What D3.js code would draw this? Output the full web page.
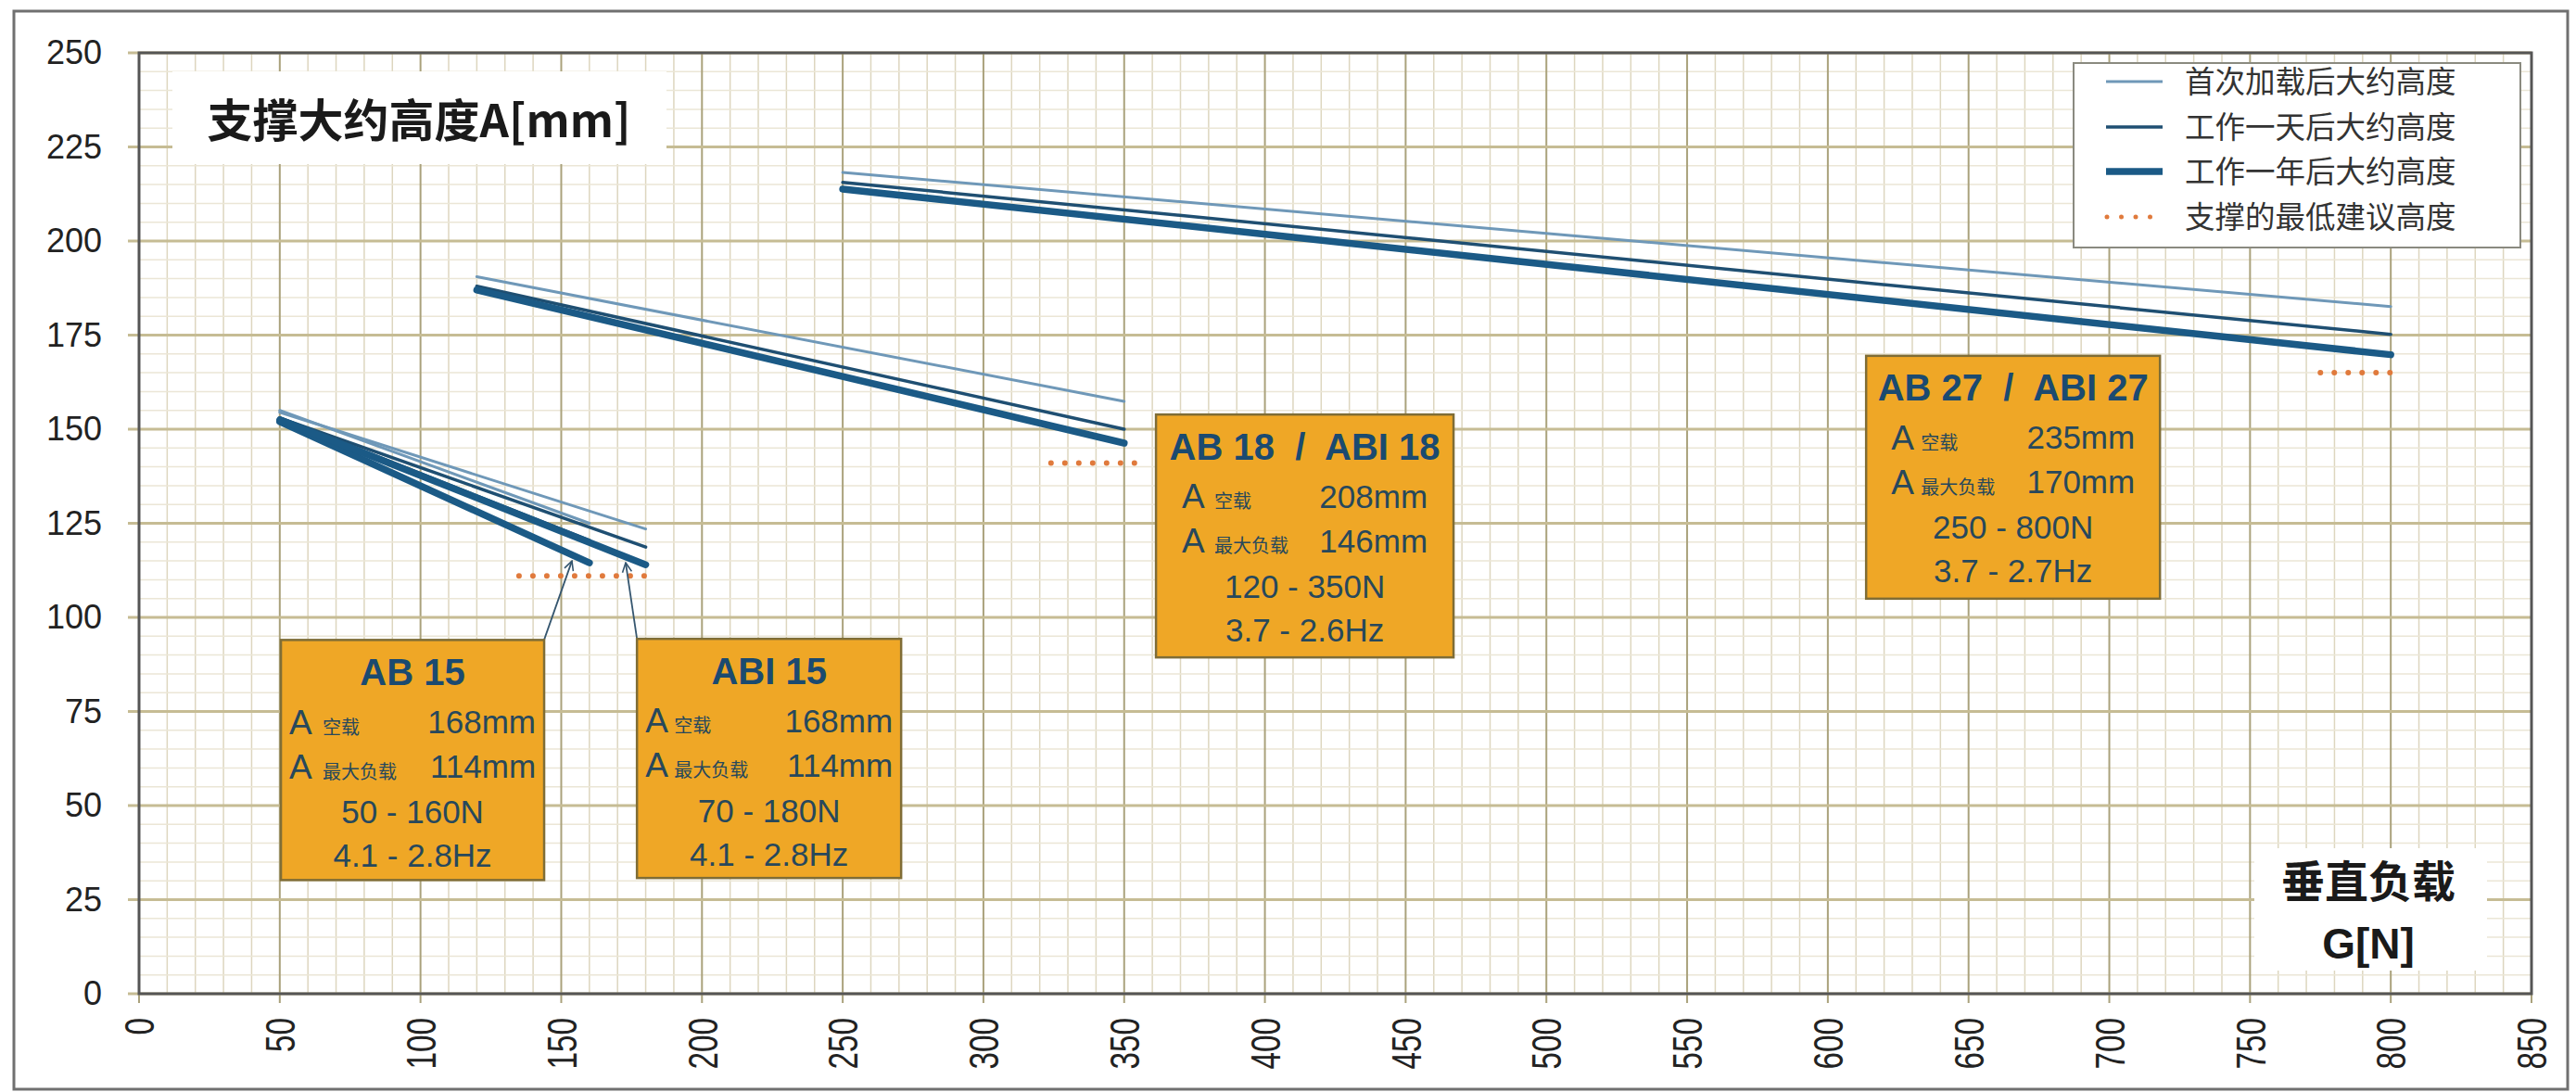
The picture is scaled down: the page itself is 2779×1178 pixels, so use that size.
<!DOCTYPE html>
<html>
<head>
<meta charset="utf-8">
<script src="https://cdn.jsdelivr.net/npm/d3@7"></script>
<style>
  html, body { margin: 0; padding: 0; background: #ffffff; }
  svg { display: block; }
</style>
</head>
<body>
<svg id="chart" width="2779" height="1178"></svg>
<script>
// ---------------- DATA ----------------
const xTickLabels = [0, 50, 100, 150, 200, 250, 300, 350, 400, 450, 500, 550, 600, 650, 700, 750, 800, 850];
const yTickLabels = [0, 25, 50, 75, 100, 125, 150, 175, 200, 225, 250];

const seriesNames = ["首次加载后大约高度", "工作一天后大约高度", "工作一年后大约高度", "支撑的最低建议高度"];

const curveModels = ["AB 15", "ABI 15", "AB 18", "AB 27"];
const curveLoads = [[50, 160], [50, 180], [120, 350], [250, 800]];
const firstLoadHeights = [[155, 125], [154.5, 123.5], [190.5, 157.4], [218.2, 182.6]];
const oneDayHeights = [[153, 120.5], [153, 118.7], [188, 150], [215.6, 175.2]];
const oneYearHeights = [[152, 114.5], [152.5, 114], [187, 146.3], [213.8, 169.8]];

const minHeightLoads = [[135, 184], [324, 355], [775, 804]];
const minHeightValues = [111, 141, 165];

const boxTitles = ["AB 15", "ABI 15", "AB 18  /  ABI 18", "AB 27  /  ABI 27"];
const boxEmptyHeight = ["168mm", "168mm", "208mm", "235mm"];
const boxMaxLoadHeight = ["114mm", "114mm", "146mm", "170mm"];
const boxLoadRange = ["50 - 160N", "70 - 180N", "120 - 350N", "250 - 800N"];
const boxFrequency = ["4.1 - 2.8Hz", "4.1 - 2.8Hz", "3.7 - 2.6Hz", "3.7 - 2.7Hz"];
const rowLabelEmpty = "空载";
const rowLabelMax = "最大负载";

const yTitle = "支撑大约高度A[mm]";
const xTitle = ["垂直负载", "G[N]"];

// arrows: from box corner (load, height) to curve point (load, height)
const arrowFrom = [[143.9, 94], [176.9, 94.3]];
const arrowTo = [[153.8, 115], [172.9, 114.5]];

// ---------------- LAYOUT ----------------
const boxAnchor = [[50.4, 94], [176.9, 94.3], [361.3, 153.9], [613.6, 169.5]]; // top-left in data units
const boxSize = [[284, 259], [285, 258], [321, 262], [317, 262]];            // px
const boxPad = [9, 9, 28, 27];
const boxSmallOffset = [36, 31, 35, 32];

const svg = d3.select("#chart");
const plotL = 150, plotR = 2731, plotT = 57, plotB = 1072;

const x = d3.scaleLinear().domain([0, 850]).range([plotL, plotR]);
const y = d3.scaleLinear().domain([0, 250]).range([plotB, plotT]);

const latin = "'Liberation Sans', Arial, sans-serif";
const cjk = "'Noto Sans CJK SC', 'Liberation Sans', sans-serif";

// outer frame
svg.append("rect").attr("x", 15).attr("y", 12).attr("width", 2755).attr("height", 1163)
  .attr("fill", "#ffffff").attr("stroke", "#707070").attr("stroke-width", 3);

// plot background
svg.append("rect").attr("x", plotL).attr("y", plotT).attr("width", plotR - plotL).attr("height", plotB - plotT)
  .attr("fill", "#ffffff");

// grid
const grid = svg.append("g");
const minorX = d3.range(0, 851, 10).filter(v => v % 50 !== 0);
const minorY = d3.range(0, 251, 5).filter(v => v % 25 !== 0);
grid.selectAll(".mnx").data(minorX).join("line")
  .attr("x1", d => x(d)).attr("x2", d => x(d)).attr("y1", plotT).attr("y2", plotB)
  .attr("stroke", "#ddd6bf").attr("stroke-width", 1.5);
grid.selectAll(".mny").data(minorY).join("line")
  .attr("x1", plotL).attr("x2", plotR).attr("y1", d => y(d)).attr("y2", d => y(d))
  .attr("stroke", "#ebe6d6").attr("stroke-width", 1.5);
grid.selectAll(".mjx").data(xTickLabels).join("line")
  .attr("x1", d => x(d)).attr("x2", d => x(d)).attr("y1", plotT).attr("y2", plotB + 10)
  .attr("stroke", "#aaa27c").attr("stroke-width", 2);
grid.selectAll(".mjy").data(yTickLabels).join("line")
  .attr("x1", plotL - 12).attr("x2", plotR).attr("y1", d => y(d)).attr("y2", d => y(d))
  .attr("stroke", "#c6bc94").attr("stroke-width", 3);

// axes (labels)
const yAxis = d3.axisLeft(y).tickValues(yTickLabels).tickSize(0).tickPadding(40);
const gy = svg.append("g").attr("transform", `translate(${plotL},0)`).call(yAxis);
gy.select(".domain").remove();
gy.selectAll("text").attr("font-family", latin).attr("font-size", 36).attr("fill", "#222");

const xAxis = d3.axisBottom(x).tickValues(xTickLabels).tickSize(0);
const gx = svg.append("g").attr("transform", `translate(0,${plotB})`).call(xAxis);
gx.select(".domain").remove();
gx.selectAll("text")
  .attr("font-family", latin).attr("font-size", 45).attr("fill", "#222")
  .attr("x", 0).attr("y", 0).attr("dy", "0.35em")
  .attr("text-anchor", "end")
  .attr("transform", "translate(0,26) rotate(-90) scale(0.74,1)");

// plot border
svg.append("rect").attr("x", plotL).attr("y", plotT).attr("width", plotR - plotL).attr("height", plotB - plotT)
  .attr("fill", "none").attr("stroke", "#555").attr("stroke-width", 3);

// title box (y)
const tg = svg.append("g");
tg.append("rect").attr("x", 186).attr("y", 77).attr("width", 533).attr("height", 100).attr("fill", "#ffffff");
tg.append("text").attr("x", 452).attr("y", 130).attr("dy", "0.36em").attr("text-anchor", "middle")
  .attr("font-family", cjk).attr("font-weight", 700).attr("font-size", 49).attr("fill", "#1a1a1a")
  .text(yTitle);

// x title box
const xg = svg.append("g");
xg.append("rect").attr("x", 2432).attr("y", 915).attr("width", 251).attr("height", 132).attr("fill", "#ffffff");
xg.append("text").attr("x", 2555).attr("y", 951).attr("dy", "0.36em").attr("text-anchor", "middle")
  .attr("font-family", cjk).attr("font-weight", 700).attr("font-size", 47).attr("fill", "#1a1a1a")
  .text(xTitle[0]);
xg.append("text").attr("x", 2555).attr("y", 1017).attr("dy", "0.36em").attr("text-anchor", "middle")
  .attr("font-family", latin).attr("font-weight", 700).attr("font-size", 46).attr("fill", "#1a1a1a")
  .text(xTitle[1]);

// curves
const line = d3.line().x(d => x(d[0])).y(d => y(d[1]));
const styles = [
  { stroke: "#6f98b8", width: 3 },
  { stroke: "#1f4f72", width: 3.5 },
  { stroke: "#1b5a86", width: 7.5 }
];
const heightSets = [firstLoadHeights, oneDayHeights, oneYearHeights];
const cg = svg.append("g");
heightSets.forEach((set, si) => {
  cg.selectAll(".c" + si).data(curveModels).join("path")
    .attr("d", (m, i) => line([[curveLoads[i][0], set[i][0]], [curveLoads[i][1], set[i][1]]]))
    .attr("fill", "none").attr("stroke", styles[si].stroke).attr("stroke-width", styles[si].width)
    .attr("stroke-linecap", "round");
});

// minimum recommended height (dotted)
cg.selectAll(".minh").data(minHeightValues).join("line")
  .attr("x1", (d, i) => x(minHeightLoads[i][0])).attr("x2", (d, i) => x(minHeightLoads[i][1]))
  .attr("y1", d => y(d)).attr("y2", d => y(d))
  .attr("stroke", "#e07a3c").attr("stroke-width", 6).attr("stroke-linecap", "round")
  .attr("stroke-dasharray", "0 15");

// arrows
const defs = svg.append("defs");
defs.append("marker").attr("id", "arr").attr("viewBox", "0 0 12 12").attr("refX", 11).attr("refY", 6)
  .attr("markerWidth", 12).attr("markerHeight", 12).attr("markerUnits", "userSpaceOnUse").attr("orient", "auto")
  .append("path").attr("d", "M1,1 L11,6 L1,11").attr("fill", "none").attr("stroke", "#35566f").attr("stroke-width", 1.6);
cg.selectAll(".arrow").data(arrowFrom).join("line")
  .attr("x1", d => x(d[0])).attr("y1", d => y(d[1]))
  .attr("x2", (d, i) => x(arrowTo[i][0])).attr("y2", (d, i) => y(arrowTo[i][1]))
  .attr("stroke", "#35566f").attr("stroke-width", 1.8).attr("marker-end", "url(#arr)");

// annotation boxes
const titleColor = "#1b4a70";
const textColor = "#27485c";
boxTitles.forEach((t, i) => {
  const bx = x(boxAnchor[i][0]), by = y(boxAnchor[i][1]);
  const [bw, bh] = boxSize[i];
  const g = svg.append("g").attr("transform", `translate(${bx},${by})`);
  g.append("rect").attr("x", 0).attr("y", 0).attr("width", bw).attr("height", bh)
    .attr("fill", "#efa726").attr("stroke", "#7f6d36").attr("stroke-width", 2.5);
  g.append("text").attr("x", bw / 2).attr("y", 34).attr("dy", "0.36em").attr("text-anchor", "middle")
    .attr("font-family", latin).attr("font-weight", 700).attr("font-size", 40).attr("fill", titleColor)
    .style("white-space", "pre")
    .text(t);
  const rows = [
    { lab: rowLabelEmpty, val: boxEmptyHeight[i], yy: 88 },
    { lab: rowLabelMax, val: boxMaxLoadHeight[i], yy: 136 }
  ];
  rows.forEach(r => {
    g.append("text").attr("x", boxPad[i]).attr("y", r.yy).attr("dy", "0.36em")
      .attr("font-family", latin).attr("font-size", 37).attr("fill", textColor).text("A");
    g.append("text").attr("x", boxPad[i] + boxSmallOffset[i]).attr("y", r.yy + 6).attr("dy", "0.36em")
      .attr("font-family", cjk).attr("font-size", 20).attr("fill", textColor).text(r.lab);
    g.append("text").attr("x", bw - boxPad[i]).attr("y", r.yy).attr("dy", "0.36em").attr("text-anchor", "end")
      .attr("font-family", latin).attr("font-size", 35).attr("fill", textColor).text(r.val);
  });
  g.append("text").attr("x", bw / 2).attr("y", 185).attr("dy", "0.36em").attr("text-anchor", "middle")
    .attr("font-family", latin).attr("font-size", 35).attr("fill", textColor).text(boxLoadRange[i]);
  g.append("text").attr("x", bw / 2).attr("y", 232).attr("dy", "0.36em").attr("text-anchor", "middle")
    .attr("font-family", latin).attr("font-size", 35).attr("fill", textColor).text(boxFrequency[i]);
});

// legend
const lg = svg.append("g");
lg.append("rect").attr("x", 2237).attr("y", 68).attr("width", 482).attr("height", 199)
  .attr("fill", "#ffffff").attr("stroke", "#8a8a80").attr("stroke-width", 2);
const legY = [88, 137, 185, 234];
seriesNames.forEach((name, i) => {
  const ly = legY[i];
  if (i < 3) {
    lg.append("line").attr("x1", 2272).attr("x2", 2333).attr("y1", ly).attr("y2", ly)
      .attr("stroke", styles[i].stroke).attr("stroke-width", styles[i].width);
  } else {
    lg.append("line").attr("x1", 2273).attr("x2", 2335).attr("y1", ly).attr("y2", ly)
      .attr("stroke", "#e07a3c").attr("stroke-width", 5).attr("stroke-linecap", "round")
      .attr("stroke-dasharray", "0 15.5");
  }
  lg.append("text").attr("x", 2357).attr("y", ly).attr("dy", "0.36em")
    .attr("font-family", cjk).attr("font-size", 32.5).attr("fill", "#333").text(name);
});
</script>
</body>
</html>
